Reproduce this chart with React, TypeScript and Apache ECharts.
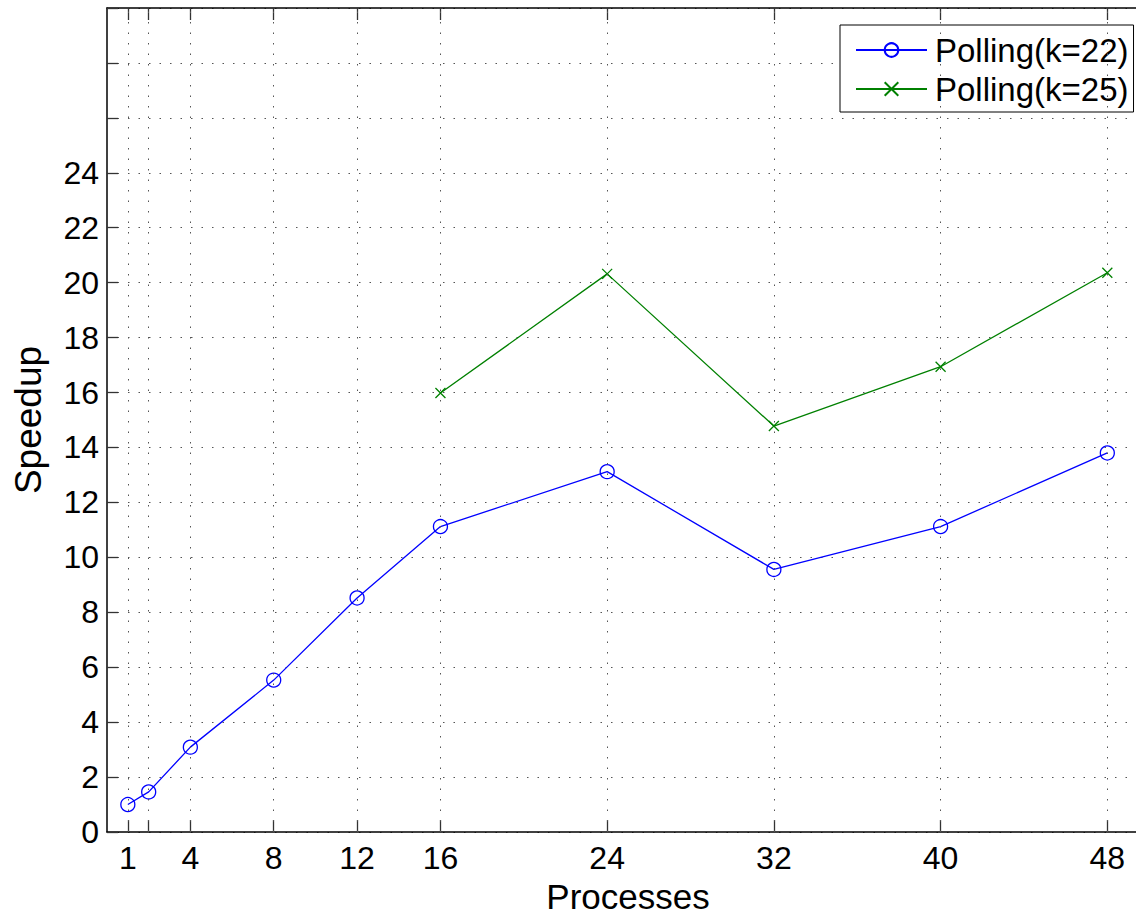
import React, { useEffect, useRef } from "react";
import * as echarts from "echarts";

const xTicks = [1, 2, 4, 8, 12, 16, 24, 32, 40, 48];
const xTickLabels = [1, 4, 8, 12, 16, 24, 32, 40, 48];
const blueX = [1, 2, 4, 8, 12, 16, 24, 32, 40, 48];
const blueY = [1.0, 1.46, 3.09, 5.53, 8.52, 11.12, 13.12, 9.56, 11.12, 13.8];
const greenX = [16, 24, 32, 40, 48];
const greenY = [15.98, 20.32, 14.78, 16.94, 20.36];
const seriesNames = ["Polling(k=22)", "Polling(k=25)"];

const FONT = "'Liberation Sans', Arial, Helvetica, sans-serif";
const dotStyle = { color: "#555", width: 1, type: [1.5, 9] as number[] };

export default function App() {
  const ref = useRef<HTMLDivElement>(null);
  useEffect(() => {
    if (!ref.current) return;
    const chart = echarts.init(ref.current, null, { renderer: "svg" });
    const xCommon = {
      type: "value",
      min: 0,
      max: 50,
      axisLine: { show: true, lineStyle: { color: "#000", width: 1.5 } },
      axisTick: {
        show: true,
        inside: true,
        length: 12,
        customValues: xTicks,
        lineStyle: { color: "#333", width: 1.3 },
      },
      splitLine: { show: false },
    };
    chart.setOption({
      animation: false,
      backgroundColor: "#fff",
      textStyle: { fontFamily: FONT },
      grid: { left: 107, right: 11, top: 8, bottom: 82, containLabel: false, outerBoundsMode: "none" },
      legend: {
        orient: "vertical",
        left: 840,
        top: 25,
        padding: [8, 5, 6, 15],
        itemGap: 5,
        itemWidth: 71,
        itemHeight: 17,
        backgroundColor: "#fff",
        borderColor: "#000",
        borderWidth: 1,
        borderRadius: 0,
        textStyle: { fontSize: 33, color: "#000", fontFamily: FONT, lineHeight: 34, padding: [0, 0, 0, 3] },
        data: seriesNames,
      },
      xAxis: [
        {
          ...xCommon,
          position: "bottom",
          name: "Processes",
          nameLocation: "middle",
          nameGap: 56,
          nameTextStyle: { fontSize: 35, color: "#000", fontFamily: FONT, verticalAlign: "middle", lineHeight: 30 },
          axisLabel: {
            show: true,
            customValues: xTickLabels,
            fontSize: 32,
            color: "#000",
            margin: 10,
            fontFamily: FONT,
          },
        },
        {
          ...xCommon,
          position: "top",
          axisLabel: { show: false },
        },
      ],
      yAxis: {
        type: "value",
        min: 0,
        max: 30,
        interval: 2,
        name: "Speedup",
        nameLocation: "middle",
        nameGap: 60,
        nameTextStyle: { fontSize: 37, color: "#000", fontFamily: FONT },
        axisLine: { show: true, lineStyle: { color: "#000", width: 1.5 } },
        axisTick: { show: true, inside: true, length: 11, lineStyle: { color: "#333", width: 1.3 } },
        axisLabel: {
          fontSize: 32,
          color: "#000",
          margin: 8,
          fontFamily: FONT,
          formatter: (v: number) => (v <= 24 ? String(v) : ""),
        },
        splitLine: { show: true, lineStyle: dotStyle },
      },
      series: [
        {
          name: seriesNames[0],
          type: "line",
          xAxisIndex: 0,
          data: blueX.map((x, i) => [x, blueY[i]]),
          symbol: "circle",
          symbolSize: 14,
          lineStyle: { color: "#0000ff", width: 1.3 },
          itemStyle: { color: "transparent", borderColor: "#0000ff", borderWidth: 1.3 },
          markLine: {
            silent: true,
            symbol: "none",
            label: { show: false },
            lineStyle: dotStyle,
            emphasis: { disabled: true },
            data: xTicks.map((v) => ({ xAxis: v })),
          },
          z: 3,
        },
        {
          name: seriesNames[1],
          type: "line",
          xAxisIndex: 0,
          data: greenX.map((x, i) => [x, greenY[i]]),
          symbol: "path://M0,0L10,10M10,0L0,10",
          symbolSize: 10,
          lineStyle: { color: "#008000", width: 1.3 },
          itemStyle: { color: "none", borderColor: "#008000", borderWidth: 1.3 },
          z: 3,
        },
      ],
    });
    return () => chart.dispose();
  }, []);
  return (
    <div style={{ position: "absolute", left: 0, top: 0, width: 1136, height: 914, overflow: "hidden", background: "#fff" }}>
      <div ref={ref} style={{ width: 1160, height: 914 }} />
    </div>
  );
}
